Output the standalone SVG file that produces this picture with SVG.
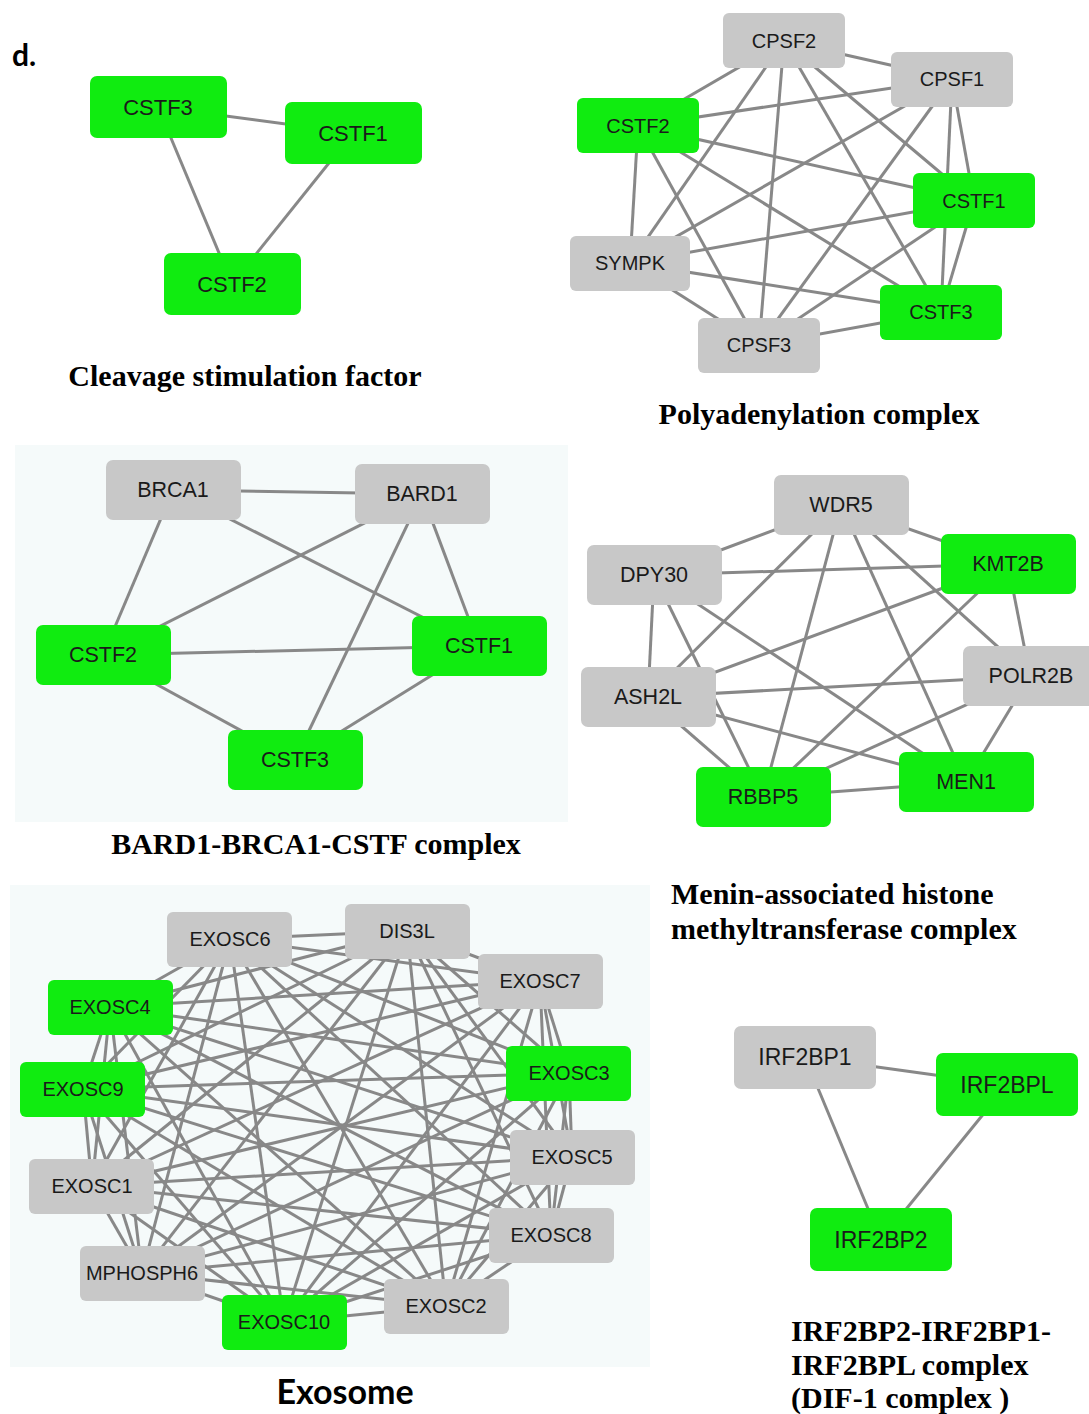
<svg xmlns="http://www.w3.org/2000/svg" width="1089" height="1414" viewBox="0 0 1089 1414">
<style>
.g{fill:#10ec10}
.n{fill:#c8c8c8}
.t{font-family:"Liberation Sans",Arial,sans-serif;fill:#1a1a1a;text-anchor:middle;dominant-baseline:central}
.e line{stroke:#888;stroke-width:3}
.ttl{font-family:"Liberation Serif","Times New Roman",serif;font-weight:bold;font-size:30px;fill:#000}
.bg{fill:#f5fafa}
</style>
<rect width="1089" height="1414" fill="#fff"/>
<rect class="bg" x="15" y="445" width="553" height="377"/>
<rect class="bg" x="10" y="885" width="640" height="482"/>
<text x="12" y="66" font-family="Lato,'Liberation Sans',sans-serif" font-weight="bold" font-size="30">d.</text>

<!-- Panel 1 -->
<g class="e" id="edges-csf">
<line x1="158" y1="107" x2="353" y2="133"/>
<line x1="158" y1="107" x2="232" y2="284"/>
<line x1="353" y1="133" x2="232" y2="284"/>
</g>
<g id="csf-CSTF3"><rect class="g" x="90" y="76" width="137" height="62" rx="7"/><text class="t" x="158" y="107" font-size="22">CSTF3</text></g>
<g id="csf-CSTF1"><rect class="g" x="285" y="102" width="137" height="62" rx="7"/><text class="t" x="353" y="133" font-size="22">CSTF1</text></g>
<g id="csf-CSTF2"><rect class="g" x="164" y="253" width="137" height="62" rx="7"/><text class="t" x="232" y="284" font-size="22">CSTF2</text></g>
<text class="ttl" x="245" y="386" text-anchor="middle">Cleavage stimulation factor</text>

<!-- Panel 2 Polyadenylation -->
<g class="e" id="edges-poly">
<line x1="784" y1="41" x2="952" y2="79"/>
<line x1="784" y1="41" x2="638" y2="126"/>
<line x1="784" y1="41" x2="974" y2="201"/>
<line x1="784" y1="41" x2="630" y2="263"/>
<line x1="784" y1="41" x2="941" y2="312"/>
<line x1="784" y1="41" x2="759" y2="345"/>
<line x1="952" y1="79" x2="638" y2="126"/>
<line x1="952" y1="79" x2="974" y2="201"/>
<line x1="952" y1="79" x2="630" y2="263"/>
<line x1="952" y1="79" x2="941" y2="312"/>
<line x1="952" y1="79" x2="759" y2="345"/>
<line x1="638" y1="126" x2="974" y2="201"/>
<line x1="638" y1="126" x2="630" y2="263"/>
<line x1="638" y1="126" x2="941" y2="312"/>
<line x1="638" y1="126" x2="759" y2="345"/>
<line x1="974" y1="201" x2="630" y2="263"/>
<line x1="974" y1="201" x2="941" y2="312"/>
<line x1="974" y1="201" x2="759" y2="345"/>
<line x1="630" y1="263" x2="941" y2="312"/>
<line x1="630" y1="263" x2="759" y2="345"/>
<line x1="941" y1="312" x2="759" y2="345"/>
</g>
<g id="poly-CPSF2"><rect class="n" x="723" y="13" width="122" height="55" rx="6"/><text class="t" x="784" y="41" font-size="20">CPSF2</text></g>
<g id="poly-CPSF1"><rect class="n" x="891" y="52" width="122" height="55" rx="6"/><text class="t" x="952" y="79" font-size="20">CPSF1</text></g>
<g id="poly-CSTF2"><rect class="g" x="577" y="98" width="122" height="55" rx="6"/><text class="t" x="638" y="126" font-size="20">CSTF2</text></g>
<g id="poly-CSTF1"><rect class="g" x="913" y="173" width="122" height="55" rx="6"/><text class="t" x="974" y="201" font-size="20">CSTF1</text></g>
<g id="poly-SYMPK"><rect class="n" x="570" y="236" width="120" height="55" rx="6"/><text class="t" x="630" y="263" font-size="20">SYMPK</text></g>
<g id="poly-CSTF3"><rect class="g" x="880" y="285" width="122" height="55" rx="6"/><text class="t" x="941" y="312" font-size="20">CSTF3</text></g>
<g id="poly-CPSF3"><rect class="n" x="698" y="318" width="122" height="55" rx="6"/><text class="t" x="759" y="345" font-size="20">CPSF3</text></g>
<text class="ttl" x="819" y="424" text-anchor="middle">Polyadenylation complex</text>

<!-- Panel 3 BARD1 -->
<g class="e" id="edges-bard">
<line x1="173" y1="490" x2="422" y2="494"/>
<line x1="173" y1="490" x2="103" y2="655"/>
<line x1="173" y1="490" x2="479" y2="646"/>
<line x1="422" y1="494" x2="103" y2="655"/>
<line x1="422" y1="494" x2="295" y2="760"/>
<line x1="422" y1="494" x2="479" y2="646"/>
<line x1="103" y1="655" x2="479" y2="646"/>
<line x1="103" y1="655" x2="295" y2="760"/>
<line x1="479" y1="646" x2="295" y2="760"/>
</g>
<g id="bard-BRCA1"><rect class="n" x="106" y="460" width="135" height="60" rx="7"/><text class="t" x="173" y="490" font-size="21.5">BRCA1</text></g>
<g id="bard-BARD1"><rect class="n" x="355" y="464" width="135" height="60" rx="7"/><text class="t" x="422" y="494" font-size="21.5">BARD1</text></g>
<g id="bard-CSTF2"><rect class="g" x="36" y="625" width="135" height="60" rx="7"/><text class="t" x="103" y="655" font-size="21.5">CSTF2</text></g>
<g id="bard-CSTF1"><rect class="g" x="412" y="616" width="135" height="60" rx="7"/><text class="t" x="479" y="646" font-size="21.5">CSTF1</text></g>
<g id="bard-CSTF3"><rect class="g" x="228" y="730" width="135" height="60" rx="7"/><text class="t" x="295" y="760" font-size="21.5">CSTF3</text></g>
<text class="ttl" x="316" y="854" text-anchor="middle">BARD1-BRCA1-CSTF complex</text>

<!-- Panel 4 Menin -->
<g class="e" id="edges-menin">
<line x1="841" y1="505" x2="654" y2="575"/>
<line x1="841" y1="505" x2="1008" y2="564"/>
<line x1="841" y1="505" x2="648" y2="697"/>
<line x1="841" y1="505" x2="763" y2="797"/>
<line x1="841" y1="505" x2="966" y2="782"/>
<line x1="841" y1="505" x2="1030" y2="676"/>
<line x1="654" y1="575" x2="1008" y2="564"/>
<line x1="654" y1="575" x2="648" y2="697"/>
<line x1="654" y1="575" x2="763" y2="797"/>
<line x1="654" y1="575" x2="966" y2="782"/>
<line x1="1008" y1="564" x2="648" y2="697"/>
<line x1="1008" y1="564" x2="763" y2="797"/>
<line x1="1008" y1="564" x2="1030" y2="676"/>
<line x1="1030" y1="676" x2="648" y2="697"/>
<line x1="1030" y1="676" x2="763" y2="797"/>
<line x1="1030" y1="676" x2="966" y2="782"/>
<line x1="648" y1="697" x2="966" y2="782"/>
<line x1="648" y1="697" x2="763" y2="797"/>
<line x1="763" y1="797" x2="966" y2="782"/>
</g>
<g id="menin-WDR5"><rect class="n" x="774" y="475" width="135" height="60" rx="7"/><text class="t" x="841" y="505" font-size="21.5">WDR5</text></g>
<g id="menin-DPY30"><rect class="n" x="587" y="545" width="135" height="60" rx="7"/><text class="t" x="654" y="575" font-size="21.5">DPY30</text></g>
<g id="menin-KMT2B"><rect class="g" x="941" y="534" width="135" height="60" rx="7"/><text class="t" x="1008" y="564" font-size="21.5">KMT2B</text></g>
<g id="menin-POLR2B"><rect class="n" x="963" y="646" width="135" height="60" rx="7"/><text class="t" x="1031" y="676" font-size="21.5">POLR2B</text></g>
<g id="menin-ASH2L"><rect class="n" x="581" y="667" width="135" height="60" rx="7"/><text class="t" x="648" y="697" font-size="21.5">ASH2L</text></g>
<g id="menin-RBBP5"><rect class="g" x="696" y="767" width="135" height="60" rx="7"/><text class="t" x="763" y="797" font-size="21.5">RBBP5</text></g>
<g id="menin-MEN1"><rect class="g" x="899" y="752" width="135" height="60" rx="7"/><text class="t" x="966" y="782" font-size="21.5">MEN1</text></g>
<text class="ttl" x="671" y="904">Menin-associated histone</text>
<text class="ttl" x="671" y="939">methyltransferase complex</text>

<!-- Panel 5 Exosome -->
<g class="e" id="edges-exo">
<line x1="230" y1="939" x2="407" y2="931"/>
<line x1="230" y1="939" x2="540" y2="981"/>
<line x1="230" y1="939" x2="569" y2="1073"/>
<line x1="230" y1="939" x2="572" y2="1157"/>
<line x1="230" y1="939" x2="551" y2="1235"/>
<line x1="230" y1="939" x2="446" y2="1306"/>
<line x1="230" y1="939" x2="284" y2="1322"/>
<line x1="230" y1="939" x2="142" y2="1273"/>
<line x1="230" y1="939" x2="92" y2="1186"/>
<line x1="230" y1="939" x2="83" y2="1089"/>
<line x1="230" y1="939" x2="110" y2="1007"/>
<line x1="407" y1="931" x2="540" y2="981"/>
<line x1="407" y1="931" x2="569" y2="1073"/>
<line x1="407" y1="931" x2="572" y2="1157"/>
<line x1="407" y1="931" x2="551" y2="1235"/>
<line x1="407" y1="931" x2="446" y2="1306"/>
<line x1="407" y1="931" x2="284" y2="1322"/>
<line x1="407" y1="931" x2="142" y2="1273"/>
<line x1="407" y1="931" x2="92" y2="1186"/>
<line x1="407" y1="931" x2="83" y2="1089"/>
<line x1="407" y1="931" x2="110" y2="1007"/>
<line x1="540" y1="981" x2="569" y2="1073"/>
<line x1="540" y1="981" x2="572" y2="1157"/>
<line x1="540" y1="981" x2="551" y2="1235"/>
<line x1="540" y1="981" x2="446" y2="1306"/>
<line x1="540" y1="981" x2="284" y2="1322"/>
<line x1="540" y1="981" x2="142" y2="1273"/>
<line x1="540" y1="981" x2="92" y2="1186"/>
<line x1="540" y1="981" x2="83" y2="1089"/>
<line x1="540" y1="981" x2="110" y2="1007"/>
<line x1="569" y1="1073" x2="572" y2="1157"/>
<line x1="569" y1="1073" x2="551" y2="1235"/>
<line x1="569" y1="1073" x2="446" y2="1306"/>
<line x1="569" y1="1073" x2="284" y2="1322"/>
<line x1="569" y1="1073" x2="142" y2="1273"/>
<line x1="569" y1="1073" x2="92" y2="1186"/>
<line x1="569" y1="1073" x2="83" y2="1089"/>
<line x1="569" y1="1073" x2="110" y2="1007"/>
<line x1="572" y1="1157" x2="551" y2="1235"/>
<line x1="572" y1="1157" x2="446" y2="1306"/>
<line x1="572" y1="1157" x2="284" y2="1322"/>
<line x1="572" y1="1157" x2="142" y2="1273"/>
<line x1="572" y1="1157" x2="92" y2="1186"/>
<line x1="572" y1="1157" x2="83" y2="1089"/>
<line x1="572" y1="1157" x2="110" y2="1007"/>
<line x1="551" y1="1235" x2="446" y2="1306"/>
<line x1="551" y1="1235" x2="284" y2="1322"/>
<line x1="551" y1="1235" x2="142" y2="1273"/>
<line x1="551" y1="1235" x2="92" y2="1186"/>
<line x1="551" y1="1235" x2="83" y2="1089"/>
<line x1="551" y1="1235" x2="110" y2="1007"/>
<line x1="446" y1="1306" x2="284" y2="1322"/>
<line x1="446" y1="1306" x2="142" y2="1273"/>
<line x1="446" y1="1306" x2="92" y2="1186"/>
<line x1="446" y1="1306" x2="83" y2="1089"/>
<line x1="446" y1="1306" x2="110" y2="1007"/>
<line x1="284" y1="1322" x2="142" y2="1273"/>
<line x1="284" y1="1322" x2="92" y2="1186"/>
<line x1="284" y1="1322" x2="83" y2="1089"/>
<line x1="284" y1="1322" x2="110" y2="1007"/>
<line x1="142" y1="1273" x2="92" y2="1186"/>
<line x1="142" y1="1273" x2="83" y2="1089"/>
<line x1="142" y1="1273" x2="110" y2="1007"/>
<line x1="92" y1="1186" x2="83" y2="1089"/>
<line x1="92" y1="1186" x2="110" y2="1007"/>
<line x1="83" y1="1089" x2="110" y2="1007"/>
</g>
<g id="exo-EXOSC6"><rect class="n" x="167" y="912" width="125" height="55" rx="6"/><text class="t" x="230" y="939" font-size="20">EXOSC6</text></g>
<g id="exo-DIS3L"><rect class="n" x="345" y="904" width="125" height="55" rx="6"/><text class="t" x="407" y="931" font-size="20">DIS3L</text></g>
<g id="exo-EXOSC7"><rect class="n" x="478" y="954" width="125" height="55" rx="6"/><text class="t" x="540" y="981" font-size="20">EXOSC7</text></g>
<g id="exo-EXOSC4"><rect class="g" x="48" y="980" width="125" height="55" rx="6"/><text class="t" x="110" y="1007" font-size="20">EXOSC4</text></g>
<g id="exo-EXOSC3"><rect class="g" x="506" y="1046" width="125" height="55" rx="6"/><text class="t" x="569" y="1073" font-size="20">EXOSC3</text></g>
<g id="exo-EXOSC9"><rect class="g" x="20" y="1062" width="125" height="55" rx="6"/><text class="t" x="83" y="1089" font-size="20">EXOSC9</text></g>
<g id="exo-EXOSC5"><rect class="n" x="510" y="1130" width="125" height="55" rx="6"/><text class="t" x="572" y="1157" font-size="20">EXOSC5</text></g>
<g id="exo-EXOSC1"><rect class="n" x="29" y="1159" width="125" height="55" rx="6"/><text class="t" x="92" y="1186" font-size="20">EXOSC1</text></g>
<g id="exo-EXOSC8"><rect class="n" x="489" y="1208" width="125" height="55" rx="6"/><text class="t" x="551" y="1235" font-size="20">EXOSC8</text></g>
<g id="exo-MPHOSPH6"><rect class="n" x="80" y="1246" width="125" height="55" rx="6"/><text class="t" x="142" y="1273" font-size="20">MPHOSPH6</text></g>
<g id="exo-EXOSC2"><rect class="n" x="384" y="1279" width="125" height="55" rx="6"/><text class="t" x="446" y="1306" font-size="20">EXOSC2</text></g>
<g id="exo-EXOSC10"><rect class="g" x="222" y="1295" width="125" height="55" rx="6"/><text class="t" x="284" y="1322" font-size="20">EXOSC10</text></g>
<text x="345" y="1404" text-anchor="middle" font-family="Lato,'Liberation Sans',sans-serif" font-weight="bold" font-size="34">Exosome</text>

<!-- Panel 6 IRF2BP -->
<g class="e" id="edges-irf">
<line x1="805" y1="1057" x2="1007" y2="1085"/>
<line x1="805" y1="1057" x2="881" y2="1240"/>
<line x1="1007" y1="1085" x2="881" y2="1240"/>
</g>
<g id="irf-IRF2BP1"><rect class="n" x="734" y="1026" width="142" height="63" rx="7"/><text class="t" x="805" y="1057" font-size="23">IRF2BP1</text></g>
<g id="irf-IRF2BPL"><rect class="g" x="936" y="1053" width="142" height="63" rx="7"/><text class="t" x="1007" y="1085" font-size="23">IRF2BPL</text></g>
<g id="irf-IRF2BP2"><rect class="g" x="810" y="1208" width="142" height="63" rx="7"/><text class="t" x="881" y="1240" font-size="23">IRF2BP2</text></g>
<text class="ttl" x="791" y="1341">IRF2BP2-IRF2BP1-</text>
<text class="ttl" x="791" y="1375">IRF2BPL complex</text>
<text class="ttl" x="791" y="1408">(DIF-1 complex )</text>
</svg>
